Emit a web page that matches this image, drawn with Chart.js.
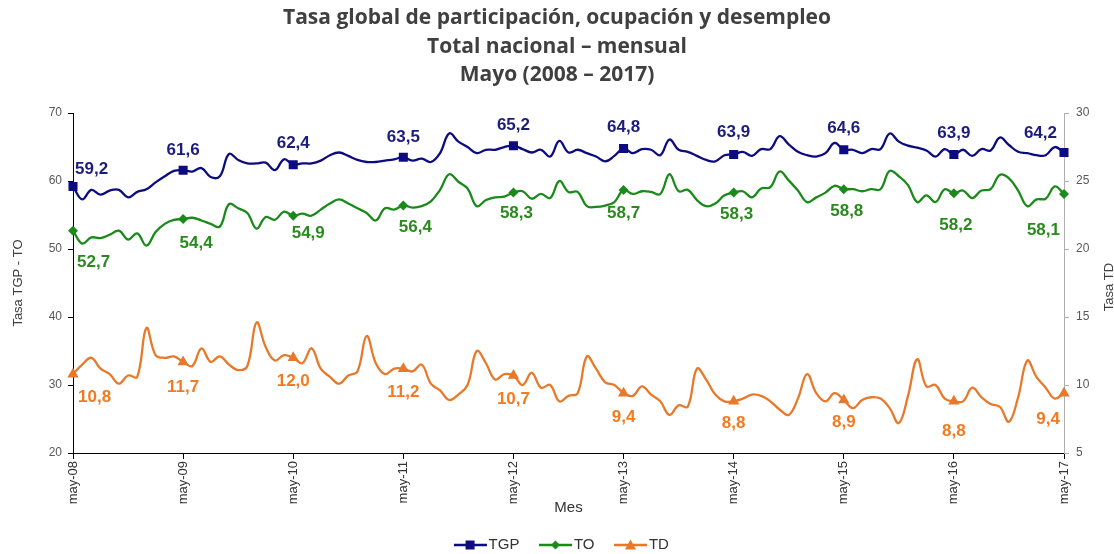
<!DOCTYPE html>
<html>
<head>
<meta charset="utf-8">
<script src="https://cdn.jsdelivr.net/npm/chart.js@4.4.1/dist/chart.umd.min.js"></script>
<style>
  html, body { margin: 0; padding: 0; background: #ffffff; }
  #wrap { width: 1114px; height: 554px; }
</style>
</head>
<body>
<div id="wrap"><canvas id="c" width="1114" height="554"></canvas></div>
<script>
// ---------- DATA ----------
const monthNames = ['ene','feb','mar','abr','may','jun','jul','ago','sep','oct','nov','dic'];
const startYear = 2008;           // first month: may-08
const monthCount = 109;           // may-08 .. may-17
const categories = [];
for (let i = 0; i < monthCount; i++) {
  const m = (4 + i) % 12;
  const y = startYear + Math.floor((4 + i) / 12);
  categories.push(monthNames[m] + '-' + String(y % 100).padStart(2, '0'));
}

const seriesNames = ['TGP', 'TO', 'TD'];

const tgp = [
  59.2, 57.3, 58.7, 58.0, 58.6, 58.7, 57.6, 58.4, 58.8, 59.8, 60.7, 61.5,
  61.6, 61.4, 61.9, 60.6, 60.7, 64.0, 63.1, 62.6, 62.6, 62.7, 61.6, 63.2,
  62.4, 62.6, 62.6, 63.0, 63.8, 64.2, 63.7, 63.1, 62.8, 62.8, 63.0, 63.2,
  63.5, 63.0, 63.3, 62.8, 64.1, 67.0, 65.8, 65.0, 64.1, 64.6, 64.6, 65.0,
  65.2, 64.7, 64.2, 64.6, 63.6, 65.9, 64.2, 64.6, 64.1, 63.6, 62.9, 63.7,
  64.8, 64.1, 64.7, 64.6, 63.8, 66.1, 64.6, 64.3, 63.7, 63.1, 62.9, 63.8,
  63.9, 64.3, 63.7, 64.7, 64.7, 66.6, 65.4, 64.3, 63.8, 63.6, 64.1, 65.6,
  64.6, 64.6, 64.1, 64.7, 64.7, 67.0, 65.8, 65.2, 64.9, 64.5, 63.6, 64.7,
  63.9, 64.6, 63.7, 64.7, 64.5, 66.4, 65.3, 64.3, 64.1, 63.8, 63.8, 65.0,
  64.2
];

const to = [
  52.7, 50.8, 51.7, 51.6, 52.1, 52.7, 51.4, 52.3, 50.5, 52.5, 53.7, 54.3,
  54.4, 54.6, 54.2, 53.7, 53.3, 56.6, 56.0, 55.3, 53.0, 54.7, 54.3, 55.5,
  54.9, 55.2, 54.9, 55.8, 56.7, 57.3, 56.7, 56.0, 55.3, 54.2, 56.0, 55.8,
  56.4, 56.1, 56.3, 57.0, 58.7, 61.0, 59.9, 58.9, 56.3, 57.2, 57.6, 57.7,
  58.3, 58.5, 57.4, 58.1, 57.5, 60.0, 58.4, 58.4, 56.3, 56.2, 56.4, 56.9,
  58.7, 58.1, 58.5, 58.4, 58.1, 61.0, 58.5, 58.7, 57.2, 56.3, 56.7, 57.9,
  58.3, 58.5, 57.6, 58.9, 59.1, 61.4, 60.1, 58.6, 56.9, 57.6, 58.3, 59.3,
  58.8, 58.8, 58.5, 58.8, 58.8, 61.5, 60.7, 59.4, 56.9, 57.9, 56.9, 58.8,
  58.2, 58.6, 57.5, 58.6, 58.8, 60.9, 60.4, 58.6, 56.3, 57.3, 57.4, 59.2,
  58.1
];

const td = [
  10.8, 11.5, 12.0, 11.2, 10.8, 10.1, 10.7, 10.6, 14.2, 12.2, 12.0, 12.1,
  11.7, 11.4, 12.7, 11.7, 12.1, 11.5, 11.1, 11.4, 14.6, 12.8, 11.8, 12.2,
  12.0, 11.6, 12.7, 11.2, 10.6, 10.1, 10.7, 11.0, 13.6, 11.6, 10.8, 11.2,
  11.2, 11.0, 11.5, 10.1,  9.6,  8.9,  9.3, 10.0, 12.5, 11.6, 10.4, 10.8,
  10.7, 10.0, 10.9,  9.8, 10.0,  8.8,  9.2,  9.4, 12.1, 11.2, 10.2, 10.0,
   9.4,  9.2,  9.9,  9.3,  8.8,  7.8,  8.5,  8.4, 11.2, 10.4,  9.3,  8.8,
   8.8,  9.0,  9.3,  9.2,  8.8,  8.2,  7.8,  9.0, 10.8,  9.4,  8.8,  9.4,
   8.9,  8.3,  8.9,  9.1,  9.0,  8.3,  7.2,  9.2, 11.9,  9.9, 10.0,  9.0,
   8.8,  8.8,  9.8,  9.1,  8.6,  8.4,  7.3,  9.1, 11.8, 10.6,  9.8,  9.0,
   9.4
];

const leftTicks = [20, 30, 40, 50, 60, 70];
const rightTicks = [5, 10, 15, 20, 25, 30];

const titleLines = [
  'Tasa global de participación, ocupación y desempleo',
  'Total nacional – mensual',
  'Mayo (2008 – 2017)'
];

// ---------- STYLE ----------
const FONT = "'Liberation Sans', Arial, sans-serif";
const colors = {
  TGP: '#0c0c80', TO: '#1a8a1a', TD: '#e8792a'
};
const labelColors = ['#1c1c7c', '#2a8a1e', '#f37a1f'];
const markEvery = 12;

function legendIcon(color, shape) {
  const c = document.createElement('canvas');
  c.width = 33; c.height = 12;
  const g = c.getContext('2d');
  g.strokeStyle = color; g.lineWidth = 2.5;
  g.beginPath(); g.moveTo(0, 6); g.lineTo(33, 6); g.stroke();
  g.fillStyle = color;
  g.beginPath();
  if (shape === 'rect') {
    g.rect(12, 1.5, 9, 9);
  } else if (shape === 'rectRot') {
    g.moveTo(16.5, 1.5); g.lineTo(21, 6); g.lineTo(16.5, 10.5); g.lineTo(12, 6); g.closePath();
  } else {
    g.moveTo(16.5, 0.5); g.lineTo(22, 10.5); g.lineTo(11, 10.5); g.closePath();
  }
  g.fill();
  return c;
}

const shapes = ['rect', 'rectRot', 'triangle'];
const radii = [6.4, 5, 6.5];
const icons = seriesNames.map((n, i) => legendIcon(colors[n], shapes[i]));

function makeDataset(name, data, axis, idx) {
  return {
    label: name,
    data: data,
    yAxisID: axis,
    borderColor: colors[name],
    backgroundColor: colors[name],
    borderWidth: 2.3,
    tension: 0.4,
    fill: false,
    pointStyle: shapes[idx],
    pointRadius: ctx => (ctx.dataIndex % markEvery === 0 ? radii[idx] : 0),
    pointHoverRadius: ctx => (ctx.dataIndex % markEvery === 0 ? radii[idx] : 0),
    pointBorderWidth: 0,
    pointBackgroundColor: colors[name],
    pointBorderColor: colors[name]
  };
}

// value labels at the May markers
const valueLabels = {
  id: 'valueLabels',
  afterDatasetsDraw(chart, args, opts) {
    const ctx = chart.ctx;
    chart.data.datasets.forEach((ds, di) => {
      const meta = chart.getDatasetMeta(di);
      const cfg = opts.series[di];
      ctx.save();
      ctx.font = 'bold 17px ' + FONT;
      ctx.fillStyle = cfg.color;
      ctx.textBaseline = 'middle';
      let k = 0;
      meta.data.forEach((pt, i) => {
        if (i % markEvery !== 0) return;
        const txt = ds.data[i].toFixed(1).replace('.', ',');
        let x = pt.x + cfg.dx[k];
        let align = 'center';
        if (i === 0) align = 'left';
        else if (i === ds.data.length - 1) align = 'right';
        ctx.textAlign = align;
        ctx.fillText(txt, x, pt.y + cfg.dy[k]);
        k++;
      });
      ctx.restore();
    });
  }
};

// right axis title (reads bottom-to-top like the left one)
const rightTitle = {
  id: 'rightTitle',
  afterDraw(chart, args, opts) {
    const ctx = chart.ctx;
    const a = chart.chartArea;
    const s = chart.scales.y1;
    ctx.save();
    ctx.translate(s.right - 5, (a.top + a.bottom) / 2 + 4);
    ctx.rotate(-Math.PI / 2);
    ctx.font = '13px ' + FONT;
    ctx.fillStyle = '#404040';
    ctx.textAlign = 'center';
    ctx.textBaseline = 'middle';
    ctx.fillText(opts.text, 0, 0);
    ctx.restore();
  }
};

// nudge the legend block slightly to the right, as in the original
const legendNudge = {
  id: 'legendNudge',
  afterLayout(chart, args, opts) {
    if (chart.legend) {
      chart.legend.left += opts.dx;
      chart.legend.right += opts.dx;
    }
  }
};

new Chart(document.getElementById('c'), {
  type: 'line',
  data: {
    labels: categories,
    datasets: [
      makeDataset('TGP', tgp, 'y', 0),
      makeDataset('TO', to, 'y', 1),
      makeDataset('TD', td, 'y1', 2)
    ]
  },
  options: {
    responsive: false,
    animation: false,
    events: [],
    layout: { padding: { left: 0, right: 0, top: 0, bottom: -8.5 } },
    scales: {
      x: {
        type: 'category',
        offset: false,
        grid: { display: true, drawOnChartArea: false, drawTicks: true, tickLength: 6, color: '#000000' },
        border: { display: true, color: '#000000', width: 1 },
        ticks: {
          autoSkip: false, maxRotation: 90, minRotation: 90, padding: 2,
          color: '#333333', font: { family: FONT, size: 13 }
        },
        afterBuildTicks(scale) { scale.ticks = scale.ticks.filter(t => t.value % markEvery === 0); },
        afterFit(scale) { scale.height = 59.5; },
        title: {
          display: true, text: 'Mes', color: '#333333',
          font: { family: FONT, size: 15 }, padding: { top: 0, bottom: -4 }
        }
      },
      y: {
        position: 'left',
        min: leftTicks[0], max: leftTicks[leftTicks.length - 1],
        afterBuildTicks(scale) { scale.ticks = leftTicks.map(v => ({ value: v })); },
        grid: { display: true, drawOnChartArea: false, tickLength: 5, color: '#000000' },
        border: { display: true, color: '#000000', width: 1 },
        ticks: { padding: 6, color: '#595959', font: { family: FONT, size: 12 } },
        afterFit(scale) { scale.width = 73; },
        title: {
          display: true, text: 'Tasa TGP - TO', color: '#404040',
          font: { family: FONT, size: 13 }, padding: { top: 11, bottom: 0 }
        }
      },
      y1: {
        position: 'right',
        min: rightTicks[0], max: rightTicks[rightTicks.length - 1],
        afterBuildTicks(scale) { scale.ticks = rightTicks.map(v => ({ value: v })); },
        grid: { display: true, drawOnChartArea: false, tickLength: 5, color: '#b0b0b0' },
        border: { display: true, color: '#b0b0b0', width: 1 },
        ticks: { padding: 7, color: '#595959', font: { family: FONT, size: 12 } },
        afterFit(scale) { scale.width = 50; }
      }
    },
    plugins: {
      title: {
        display: true,
        text: titleLines,
        color: '#404040',
        font: { family: "'Open Sans', 'Liberation Sans', sans-serif", size: 21, weight: 'bold', lineHeight: 1.35 },
        padding: { top: 4, bottom: 24 }
      },
      legend: {
        position: 'bottom',
        labels: {
          usePointStyle: true,
          pointStyleWidth: 22,
          padding: 25,
          color: '#333333',
          font: { family: FONT, size: 15 },
          generateLabels(chart) {
            return chart.data.datasets.map((ds, i) => ({
              text: ds.label,
              pointStyle: icons[i],
              fillStyle: ds.borderColor,
              strokeStyle: ds.borderColor,
              lineWidth: 0,
              hidden: false,
              datasetIndex: i,
              fontColor: '#333333'
            }));
          }
        }
      },
      tooltip: { enabled: false },
      legendNudge: { dx: 7 },
      valueLabels: {
        series: [
          { color: labelColors[0], dx: [2, 0, 0, 0, 0, 0, 0, 0, 0, -7], dy: [-17, -20, -21, -20, -20, -21, -22, -21, -21, -19] },
          { color: labelColors[1], dx: [4, 13, 15, 12, 3, 0, 3, 3, 2, -4], dy: [32, 24, 18, 22, 21, 23, 22, 22, 32, 36] },
          { color: labelColors[2], dx: [5, 0, 0, 0, 0, 0, 0, 0, 0, -4], dy: [23, 25, 23, 24, 24, 24, 22, 22, 30, 26] }
        ]
      },
      rightTitle: { text: 'Tasa TD' }
    }
  },
  plugins: [valueLabels, rightTitle, legendNudge]
});
</script>
</body>
</html>
